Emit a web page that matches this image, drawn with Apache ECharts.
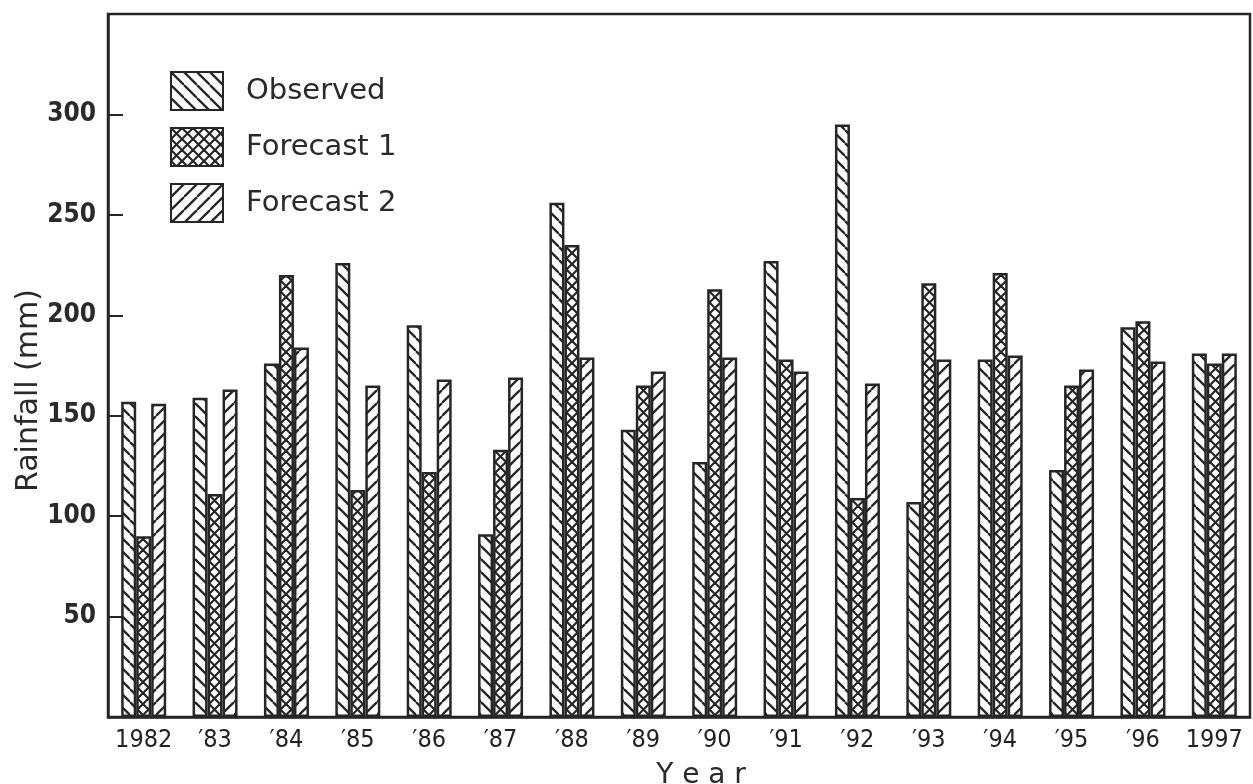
<!DOCTYPE html>
<html>
<head>
<meta charset="utf-8">
<script src="https://cdn.jsdelivr.net/npm/echarts@6/dist/echarts.min.js"></script>
<style>
html,body{margin:0;padding:0;background:#fff;}
#chart{width:1253px;height:784px;}
</style>
</head>
<body>
<div id="chart"></div>
<script>
const years = ['1982','\u203283','\u203284','\u203285','\u203286','\u203287','\u203288','\u203289','\u203290','\u203291','\u203292','\u203293','\u203294','\u203295','\u203296','1997'];
const observed  = [157,159,176,226,195,91,256,143,127,227,295,107,178,123,194,181];
const forecast1 = [90,111,220,113,122,133,235,165,213,178,109,216,221,165,197,176];
const forecast2 = [156,163,184,165,168,169,179,172,179,172,166,178,180,173,177,181];
const seriesNames = ['Observed','Forecast 1','Forecast 2'];

const INK = '#262626';
function hatch(dirs, size, lw) {
  const c = document.createElement('canvas');
  c.width = size; c.height = size;
  const g = c.getContext('2d');
  g.fillStyle = '#fff'; g.fillRect(0,0,size,size);
  g.strokeStyle = INK; g.lineWidth = lw;
  dirs.forEach(d => {
    [-size, 0, size].forEach(k => {
      g.beginPath();
      if (d === 'back') { g.moveTo(k, 0); g.lineTo(k + size, size); }
      else { g.moveTo(k + size, 0); g.lineTo(k, size); }
      g.stroke();
    });
  });
  return c;
}
const patObs = { image: hatch(['back'], 13, 2.3), repeat: 'repeat' };
const patF1  = { image: hatch(['back','fwd'], 11, 2.2), repeat: 'repeat' };
const patF2  = { image: hatch(['fwd'], 13, 2.3), repeat: 'repeat' };

const chart = echarts.init(document.getElementById('chart'), null, {renderer: 'canvas'});
const FONT = 'DejaVu Sans';
const NARROW = '"Liberation Sans Narrow", "DejaVu Sans Condensed", sans-serif';
function barSeries(name, data, pat) {
  return {
    name: name, type: 'bar', data: data,
    barWidth: 15, barGap: '0%', barCategoryGap: '0%',
    itemStyle: { color: pat, borderColor: INK, borderWidth: 2.5 },
    emphasis: { disabled: true }
  };
}
chart.setOption({
  animation: false,
  backgroundColor: '#fff',
  grid: { left: 108, right: 3, top: 14, bottom: 67, outerBoundsMode: 'none', containLabel: false,
          show: true, borderColor: INK, borderWidth: 2.5, backgroundColor: 'transparent' },
  legend: {
    orient: 'vertical', left: 165, top: 66,
    itemWidth: 52, itemHeight: 38, itemGap: 16,
    icon: 'rect',
    textStyle: { fontFamily: FONT, fontSize: 29, color: '#2a2a2a', padding: [0,0,0,18] },
    data: seriesNames
  },
  xAxis: {
    type: 'category', data: years,
    axisLine: { lineStyle: { color: INK, width: 2.5 } },
    axisTick: { show: false },
    axisLabel: { interval: 0, fontFamily: NARROW, fontSize: 25, color: '#222', margin: 11 },
    name: 'Y e a r', nameLocation: 'middle', nameGap: 45, nameMoveOverlap: false,
    nameTextStyle: { fontFamily: FONT, fontSize: 28, color: '#2a2a2a', padding: [0,0,0,44] }
  },
  yAxis: {
    type: 'value', min: 0, max: 350, interval: 50,
    splitLine: { show: false },
    axisLine: { show: true, lineStyle: { color: INK, width: 2.5 } },
    axisTick: { show: true, inside: true, length: 15, lineStyle: { color: INK, width: 2 } },
    axisLabel: { fontFamily: NARROW, fontWeight: 'bold', fontSize: 26, color: '#2a2a2a', margin: 12,
      formatter: v => (v === 0 || v === 350) ? '' : String(v) },
    name: 'Rainfall (mm)', nameLocation: 'middle', nameGap: 64, nameRotate: 90, nameMoveOverlap: false,
    nameTextStyle: { fontFamily: FONT, fontSize: 30, color: '#2a2a2a', padding: [0,50,0,0] }
  },
  series: [
    barSeries(seriesNames[0], observed, patObs),
    barSeries(seriesNames[1], forecast1, patF1),
    barSeries(seriesNames[2], forecast2, patF2)
  ]
});
</script>
</body>
</html>
